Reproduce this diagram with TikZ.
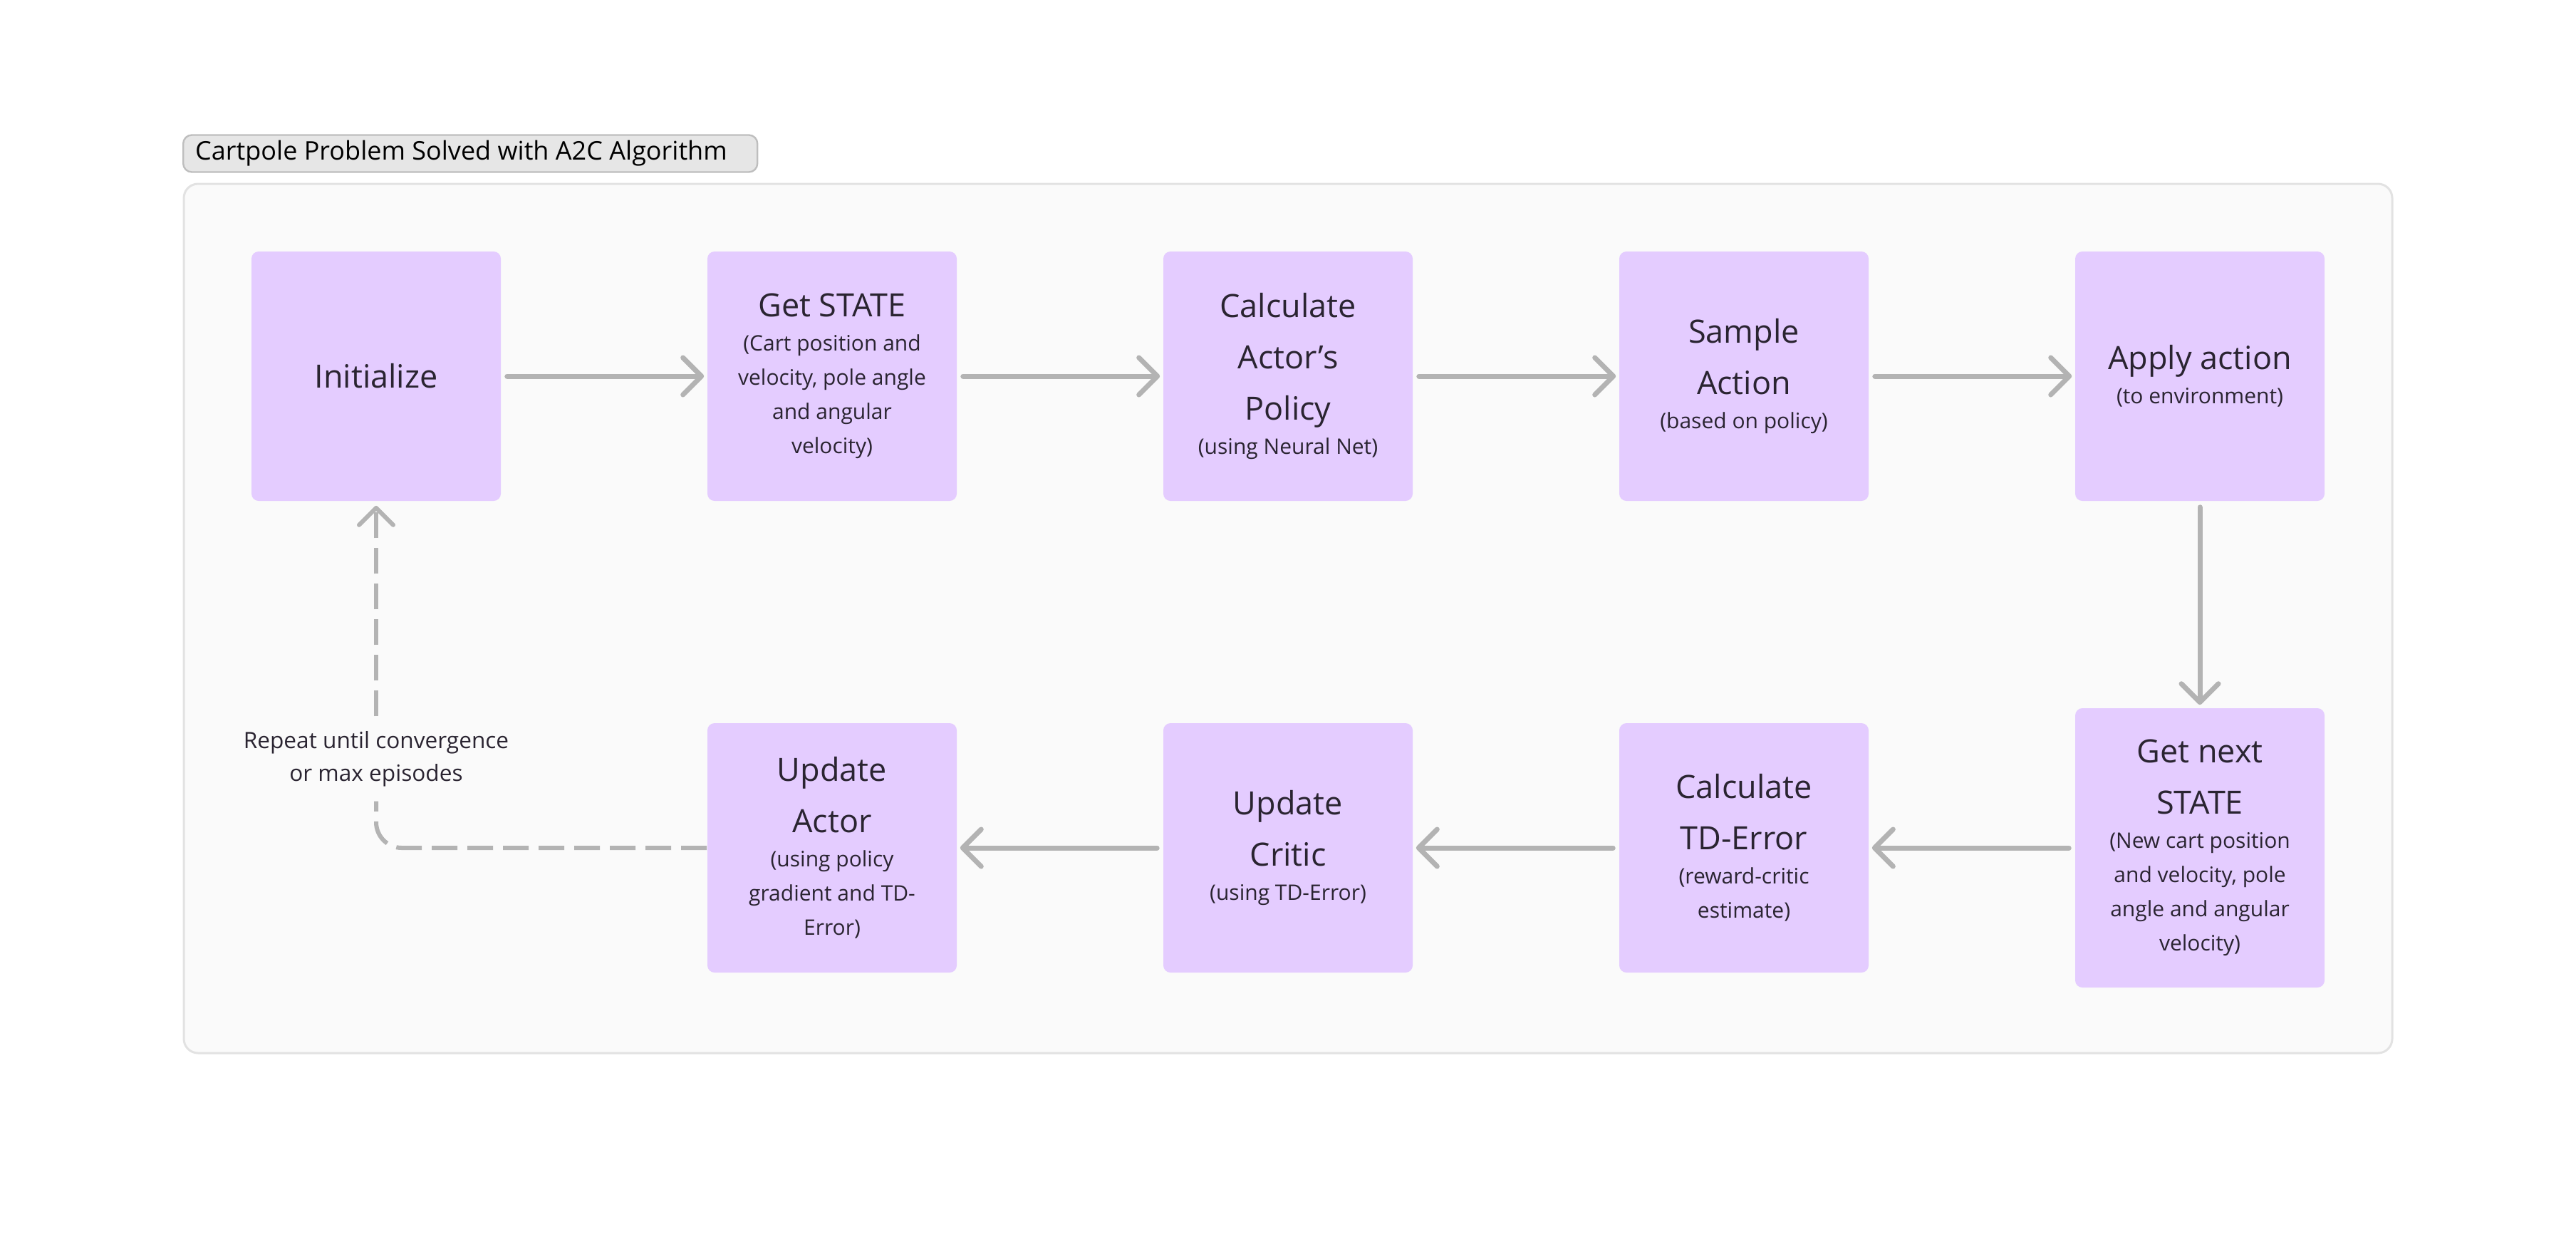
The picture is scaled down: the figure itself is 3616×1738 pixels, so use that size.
\documentclass[tikz,border=0pt]{standalone}
\usepackage{fontspec}
\setmainfont{Open Sans}
\usepackage{tikz}
\usetikzlibrary{arrows.meta,positioning}

\definecolor{boxfill}{HTML}{E4CCFF}
\definecolor{ink}{HTML}{2A2431}
\definecolor{flowgray}{HTML}{B3B3B3}
\definecolor{framebg}{HTML}{FAFAFA}
\definecolor{frameline}{HTML}{E2E2E2}
\definecolor{tabfill}{HTML}{E6E6E6}
\definecolor{tabline}{HTML}{BEBEBE}

\newcommand{\boxhead}[1]{{\fontsize{11.25}{18}\selectfont #1\par}}
\newcommand{\boxnote}[1]{{\fontsize{7.5}{12}\selectfont #1\par}}

\tikzset{
  stepbox/.style={rectangle, rounded corners=2.5pt, fill=boxfill, text=ink,
    minimum width=87.5pt, minimum height=87.5pt, text width=84pt,
    align=flush center, inner sep=0pt},
  flow/.style={draw=flowgray, line width=1.75pt, line cap=round,
    -{Straight Barb[length=6.5pt, width=13pt, line cap=round, line join=round]},
    shorten <=2pt, shorten >=1pt},
  loopback/.style={draw=flowgray, line width=1.5pt, dash pattern=on 9pt off 3.5pt},
  note/.style={text=ink, align=flush center, font=\fontsize{7.9}{11.5}\selectfont,
    inner xsep=2pt, inner ysep=5pt},
  tab/.style={rectangle, rounded corners=3pt, fill=tabfill, draw=tabline,
    line width=0.6pt, minimum height=13pt, text width=193pt, align=flush left,
    inner xsep=4.25pt, inner ysep=0pt, text=black, font=\fontsize{9}{10}\selectfont}
}

\begin{document}
\begin{tikzpicture}[x=0.25pt, y=-0.25pt, node distance=165.5pt and 160pt, on grid]
  \useasboundingbox (0,0) rectangle (3616,1738);
  % frame and caption
  \draw[fill=framebg, draw=frameline, line width=0.75pt, rounded corners=5pt]
    (258,258) rectangle (3358,1478);
  \node[tab, anchor=west] (caption) at (256,215.5)
    {Cartpole Problem Solved with A2C Algorithm};

  % top row
  \node[stepbox] (init) at (528,528) {\boxhead{Initialize}};
  \node[stepbox] (state) [right=of init]
    {\boxhead{Get STATE}\boxnote{(Cart position and\\velocity, pole angle\\and angular\\velocity)}};
  \node[stepbox] (policy) [right=of state]
    {\boxhead{Calculate\\Actor’s\\Policy}\boxnote{(using Neural Net)}};
  \node[stepbox] (sample) [right=of policy]
    {\boxhead{Sample\\Action}\boxnote{(based on policy)}};
  \node[stepbox] (apply) [right=of sample]
    {\boxhead{Apply action}\boxnote{(to environment)}};

  % bottom row
  \node[stepbox, minimum height=98pt] (next) [below=of apply]
    {\boxhead{Get next\\STATE}\boxnote{(New cart position\\and velocity, pole\\angle and angular\\velocity)}};
  \node[stepbox] (tderr) [left=of next]
    {\boxhead{Calculate\\TD-Error}\boxnote{(reward-critic\\estimate)}};
  \node[stepbox] (critic) [left=of tderr]
    {\boxhead{Update\\Critic}\boxnote{(using TD-Error)}};
  \node[stepbox] (actor) [left=of critic]
    {\boxhead{Update\\Actor}\boxnote{(using policy\\gradient and TD-\\Error)}};

  \node[note] (repeat) at (528,1065) {Repeat until convergence\\or max episodes};

  \path[flow]
    (init) edge (state)
    (state) edge (policy)
    (policy) edge (sample)
    (sample) edge (apply)
    (apply) edge (next)
    (next) edge (tderr)
    (tderr) edge (critic)
    (critic) edge (actor);

  % loop back
  \draw[loopback, rounded corners=9pt] (actor.west) -| (repeat.south);
  \draw[loopback, -{Straight Barb[length=6pt, width=12pt, line cap=round, line join=round]},
    shorten >=1.5pt] (repeat.north) -- (init.south);
\end{tikzpicture}
\end{document}
